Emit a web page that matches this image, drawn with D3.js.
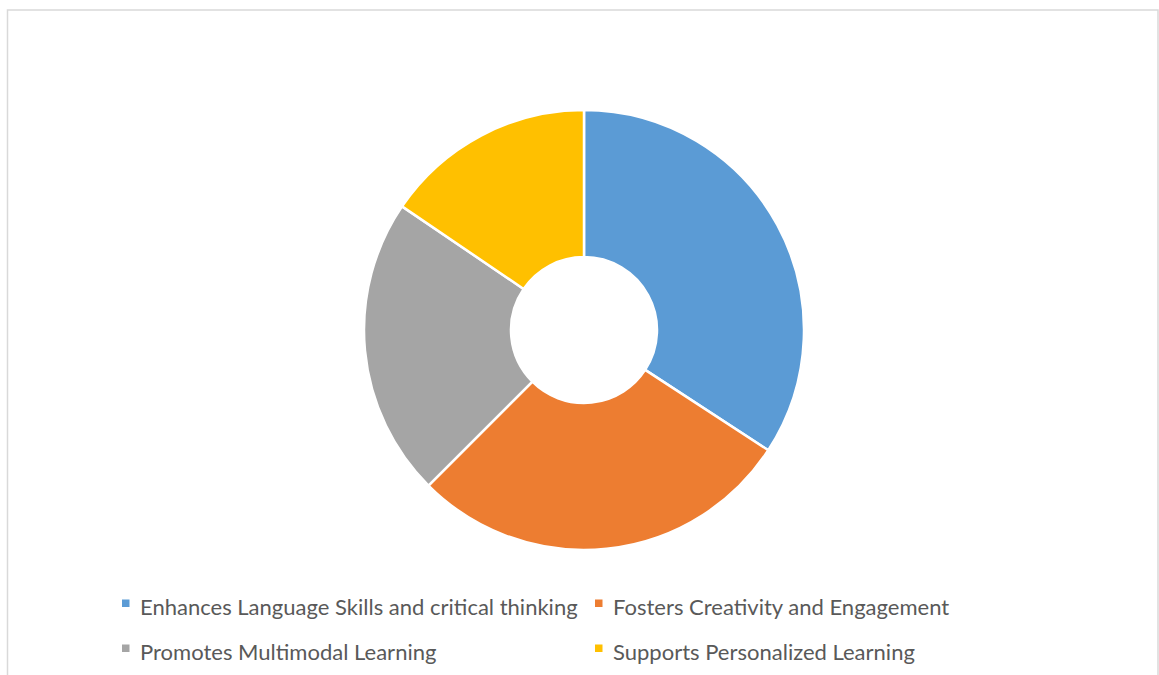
<!DOCTYPE html>
<html>
<head>
<meta charset="utf-8">
<script src="https://cdn.jsdelivr.net/npm/d3@7"></script>
<style>
  html, body { margin: 0; padding: 0; background: #ffffff; }
  svg { display: block; }
</style>
</head>
<body>
<svg id="chart" width="1159" height="675"></svg>
<script>
// Share of responses per benefit (percent)
const categories = [
  "Enhances Language Skills and critical thinking",
  "Fosters Creativity and Engagement",
  "Promotes Multimodal Learning",
  "Supports Personalized Learning"
];
const values = [34.2, 28.3, 22.0, 15.5];
const colors = ["#5B9BD5", "#ED7D31", "#A5A5A5", "#FFC000"];

const svg = d3.select("#chart");
const W = 1159, H = 675;

// chart area frame
svg.append("rect")
  .attr("x", 7.5).attr("y", 10)
  .attr("width", 1150.5).attr("height", 700)
  .attr("fill", "#ffffff")
  .attr("stroke", "#d9d9d9")
  .attr("stroke-width", 1.5);

// donut
const cx = 584, cy = 330, outerR = 220, innerR = 73;
const pie = d3.pie().sort(null).value(d => d.value);
const arc = d3.arc().innerRadius(innerR).outerRadius(outerR);
const data = categories.map((c, i) => ({ name: c, value: values[i], color: colors[i] }));

svg.append("g")
  .attr("transform", `translate(${cx},${cy})`)
  .selectAll("path")
  .data(pie(data))
  .join("path")
  .attr("d", arc)
  .attr("fill", d => d.data.color)
  .attr("stroke", "#ffffff")
  .attr("stroke-width", 2.5)
  .attr("stroke-linejoin", "round");

// legend: two columns, two rows
const colX = [122, 595];
const rowY = [607, 652];
const fontFamily = "Lato, 'Open Sans', sans-serif";

const legend = svg.append("g");
const items = legend.selectAll("g.item")
  .data(data)
  .join("g")
  .attr("class", "item")
  .attr("transform", (d, i) => `translate(${colX[i % 2]},${rowY[Math.floor(i / 2)]})`);

items.append("rect")
  .attr("x", 0).attr("y", -7.5)
  .attr("width", 7.5).attr("height", 7.5)
  .attr("fill", d => d.color);

const labels = items.append("text")
  .attr("x", 18)
  .attr("y", 0)
  .attr("dy", "0.35em")
  .attr("fill", "#595959")
  .attr("font-family", fontFamily)
  .attr("font-size", 20)
  .text(d => d.name);

// size the legend font so the longest label spans its measured width
const firstLen = labels.nodes()[0].getComputedTextLength();
const fs = 20 * 438 / firstLen;
labels.attr("font-size", fs);
</script>
</body>
</html>
